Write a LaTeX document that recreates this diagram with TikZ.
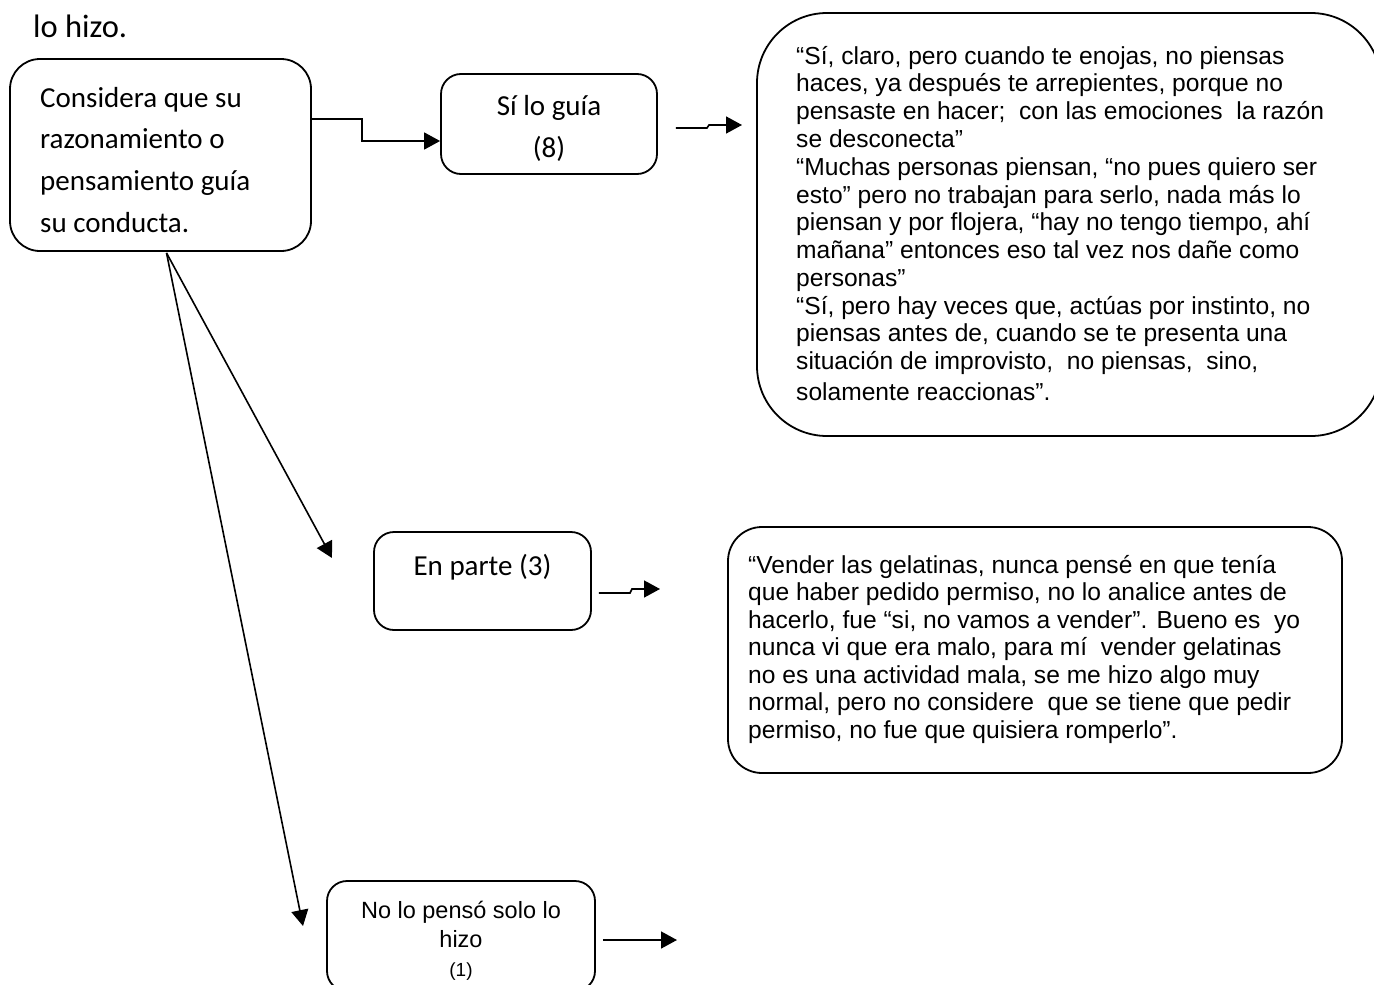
\documentclass[tikz,border=0pt]{standalone}
\usepackage{fontspec}
\setmainfont{Carlito}
\newfontfamily\arialf{Liberation Sans}
\usetikzlibrary{arrows.meta,calc}
\newcommand{\lstack}[2]{\vtop{\baselineskip=#1\relax\lineskiplimit=-1000pt\lineskip=0pt #2}}
\newcommand{\ctrline}[1]{\hbox to 0pt{\hss #1\hss}}
\begin{document}
\begin{tikzpicture}[x=1pt,y=-1pt,
  box/.style={draw, line width=1.8pt, rounded corners=#1, inner sep=0pt},
  box/.default=20pt,
  arr/.style={line width=1.6pt, -{Triangle[length=16pt,width=17pt]}},
  cal/.style={inner sep=0pt, font=\fontsize{29}{29}\selectfont},
  ari/.style={inner sep=0pt, font=\arialf\fontsize{24.6}{24.6}\selectfont}]
\useasboundingbox (0,0) rectangle (1374,985);
\fill[white] (0,0) rectangle (1374,985);

% heading fragment
\node[anchor=base west, inner sep=0pt, font=\fontsize{32.5}{32.5}\selectfont] (head) at (33,37) {lo hizo.};

% main box
\node[box=30pt, minimum width=301pt, minimum height=192pt] (main) at (160.5,155) {};
\node[cal, anchor=base west] (maintxt) at (40,107) {\lstack{41.7pt}{\hbox{Considera que su}\hbox{razonamiento o}\hbox{pensamiento guía}\hbox{su conducta.}}};

% Si lo guia
\node[box=20pt, minimum width=216pt, minimum height=100pt] (sil) at (549,124) {};
\node[cal, anchor=base] (siltxt) at (549,115) {\lstack{42pt}{\ctrline{Sí lo guía}\ctrline{(8)}}};

% En parte
\node[box=20pt, minimum width=217pt, minimum height=98pt] (enp) at (482.5,581) {};
\node[cal, anchor=base] (enptxt) at (482.5,575) {En parte (3)};

% No lo penso
\node[box=20pt, minimum width=268pt, minimum height=110pt] (nol) at (461,936) {};
\node[inner sep=0pt, anchor=base, font=\arialf\fontsize{23.5}{23.5}\selectfont] (noltxt) at (461,918) {\lstack{29pt}{\ctrline{No lo pensó solo lo}\ctrline{hizo}\ctrline{\fontsize{19}{19}\selectfont(1)}}};

% quote box 1
\node[box=70pt, minimum width=624pt, minimum height=423pt] (q1) at (1069,224.5) {};
\node[ari, anchor=base west] (q1txt) at (796,64) {\lstack{27.8pt}{%
\hbox{“Sí, claro, pero cuando te enojas, no piensas}
\hbox{haces, ya después te arrepientes, porque no}
\hbox{pensaste en hacer;\ \ con las emociones\ \ la razón}
\hbox{se desconecta”}
\hbox{“Muchas personas piensan, “no pues quiero ser}
\hbox{esto” pero no trabajan para serlo, nada más lo}
\hbox{piensan y por flojera, “hay no tengo tiempo, ahí}
\hbox{mañana” entonces eso tal vez nos dañe como}
\hbox{personas”}
\hbox{“Sí, pero hay veces que, actúas por instinto, no}
\hbox{piensas antes de, cuando se te presenta una}
\hbox{situación de improvisto,\ \ no piensas,\ \ sino,}
\vskip 2.5pt
\hbox{solamente reaccionas”.}}};

% quote box 2
\node[box=34pt, minimum width=614pt, minimum height=246pt] (q2) at (1035,650) {};
\node[ari, anchor=base west] (q2txt) at (748,573) {\lstack{27.5pt}{%
\hbox{“Vender las gelatinas, nunca pensé en que tenía}
\hbox{que haber pedido permiso, no lo analice antes de}
\hbox{hacerlo, fue “si, no vamos a vender”. Bueno es\ \ yo}
\hbox{nunca vi que era malo, para mí\ \ vender gelatinas}
\hbox{no es una actividad mala, se me hizo algo muy}
\hbox{normal, pero no considere\ \ que se tiene que pedir}
\hbox{permiso, no fue que quisiera romperlo”.}}};

% connectors
\coordinate (tipA) at (332,558);
\coordinate (tipB) at (303,926);
\coordinate (endS) at (742,125);
\coordinate (endE) at (660,589);
\coordinate (endN) at (677,940);

\draw[arr] ($(main.east)+(0,-36)$) -- (362,119) -- (362,141) -- (sil.west |- 0,141);
\draw[arr] ($(main.south)+(6,1)$) -- (tipA);
\draw[arr] ($(main.south)+(6,1)$) -- (tipB);
\draw[arr] ($(sil.east)+(18,4)$) -- (707,128) -- (709,125) -- (endS);
\draw[arr] ($(enp.east)+(7,12)$) -- (630,593) -- (632,589) -- (endE);
\draw[arr] ($(nol.east)+(7,4)$) -- (endN);
\end{tikzpicture}
\end{document}
